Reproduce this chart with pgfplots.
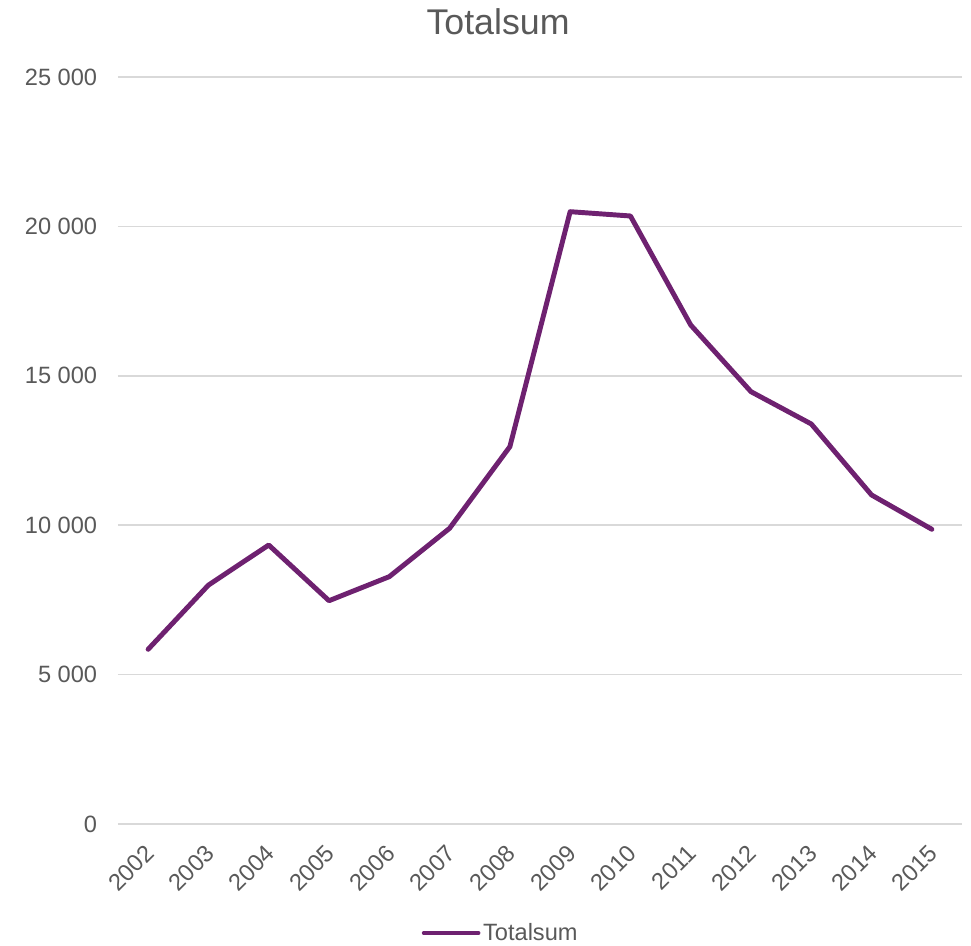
\documentclass[border=0pt]{standalone}
\usepackage{pgfplots}
\pgfplotsset{compat=1.18}
\usepackage{fontspec}
\setmainfont{Liberation Sans}
\definecolor{txt}{HTML}{595959}
\definecolor{grd}{HTML}{D9D9D9}
\definecolor{lin}{HTML}{6E2170}
\begin{document}
\begin{tikzpicture}
\path[use as bounding box] (0pt,0pt) rectangle (728.25pt,709.5pt);
\node[text=txt, font=\fontsize{26.8}{30}\selectfont] at (373.5pt,693pt) {Totalsum};
\begin{axis}[
  at={(88.5pt,91.5pt)}, anchor=south west,
  scale only axis,
  width=633pt, height=560.25pt,
  xmin=-0.5, xmax=13.5,
  ymin=0, ymax=25000,
  xtick={0,...,13},
  xticklabels={2002,2003,2004,2005,2006,2007,2008,2009,2010,2011,2012,2013,2014,2015},
  ytick={0,5000,10000,15000,20000,25000},
  axis line style={draw=none},
  axis x line*=bottom,
  ymajorgrids,
  grid style={grd, line width=1.1pt},
  major tick length=0pt,
  tick style={draw=none},
  /pgf/number format/assume math mode=true,
  /pgf/number format/1000 sep={\ },
  scaled y ticks=false,
  ticklabel style={text=txt, font=\fontsize{17.7}{20}\selectfont},
  yticklabel style={anchor=east, inner sep=0pt, xshift=-15.5pt},
  xticklabel style={xshift=1.2pt, yshift=-19pt, rotate=45, anchor=east, inner sep=0pt},
  legend style={at={(0.4538,-0.1459)}, anchor=center, draw=none, fill=none,
    font=\fontsize{17.7}{20}\selectfont, text=txt, inner sep=0pt},
  legend image code/.code={\draw[#1, line width=3pt, line cap=round] (0pt,0pt) -- (41pt,0pt);},
  legend cell align=left,
]
\addplot[lin, line width=3.7pt, line join=round, line cap=round] coordinates {
(0,5847) (1,7995) (2,9337) (3,7473) (4,8277) (5,9896) (6,12627)
(7,20492) (8,20348) (9,16700) (10,14468) (11,13387) (12,11011) (13,9863)
};
\addlegendentry{Totalsum}
\end{axis}
\end{tikzpicture}
\end{document}
